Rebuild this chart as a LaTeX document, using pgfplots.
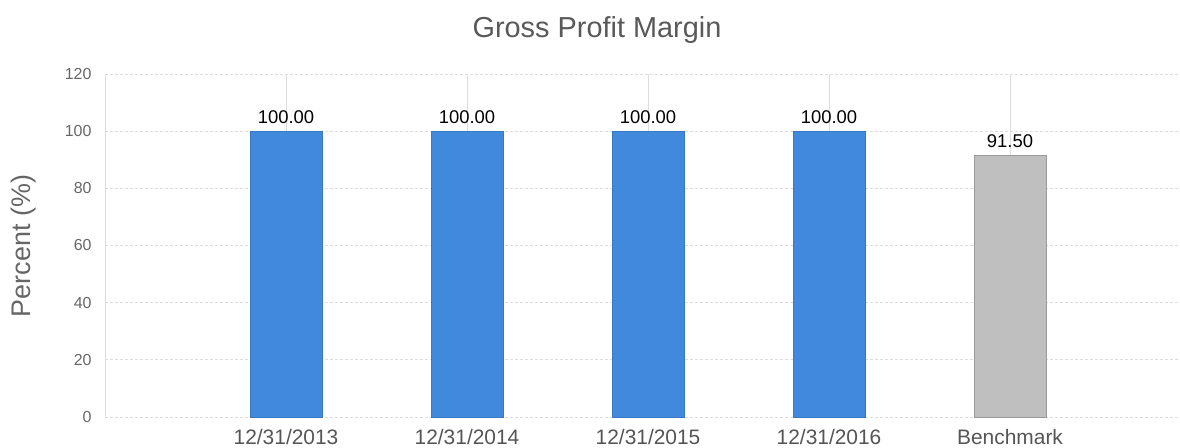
\documentclass[border=0pt]{standalone}
\usepackage{pgfplots}
\pgfplotsset{compat=1.18}
\usepackage{fontspec}
\setmainfont{Liberation Sans}
\definecolor{barblue}{HTML}{4189DD}
\definecolor{barblueedge}{HTML}{3A78C2}
\definecolor{bargray}{HTML}{BFBFBF}
\definecolor{bargrayedge}{HTML}{999999}
\definecolor{gridgray}{HTML}{DDDDDD}
\definecolor{titlegray}{HTML}{595959}
\definecolor{tickgray}{HTML}{666666}
\definecolor{xlabgray}{HTML}{555555}
\begin{document}
\begin{tikzpicture}
\useasboundingbox (0,0) rectangle (1180bp,448bp);
\begin{axis}[
  at={(105bp,31bp)}, anchor=south west,
  scale only axis, width=1075bp, height=343bp,
  xmin=0, xmax=5.939, ymin=0, ymax=120,
  ytick={0,20,...,120},
  xtick={1,2,3,4,5},
  xticklabels={12/31/2013,12/31/2014,12/31/2015,12/31/2016,Benchmark},
  /pgf/number format/assume math mode=true,
  axis lines*=left, axis line style={-},
  x axis line style={draw=none},
  y axis line style={draw=gridgray, line width=0.8bp},
  major tick length=0pt,
  xmajorgrids, ymajorgrids,
  major x grid style={solid, draw=gridgray, line width=0.8bp},
  major y grid style={draw=gridgray, dash pattern=on 3bp off 2bp, line width=0.8bp},
  yticklabel style={font=\fontsize{16}{18}\selectfont, text=tickgray, xshift=-10bp},
  xticklabel style={font=\fontsize{21}{24}\selectfont, text=xlabgray, yshift=-9bp},
  ybar, bar width=72bp, bar shift=0pt,
  nodes near coords={\pgfmathprintnumber[fixed,fixed zerofill,precision=2]{\pgfplotspointmeta}},
  every node near coord/.append style={font=\fontsize{18.5}{20}\selectfont, text=black, anchor=south, yshift=4bp},
  clip=false,
]
\addplot[fill=barblue, draw=barblueedge, line width=0.8bp] coordinates {(1,100) (2,100) (3,100) (4,100)};
\addplot[fill=bargray, draw=bargrayedge, line width=0.8bp] coordinates {(5,91.5)};
\end{axis}
\node[anchor=base, font=\fontsize{29}{32}\selectfont, text=titlegray] at (597bp,410bp) {Gross Profit Margin};
\node[rotate=90, font=\fontsize{27}{30}\selectfont, text=tickgray] at (24bp,202bp) {Percent (\%)};
\end{tikzpicture}
\end{document}
